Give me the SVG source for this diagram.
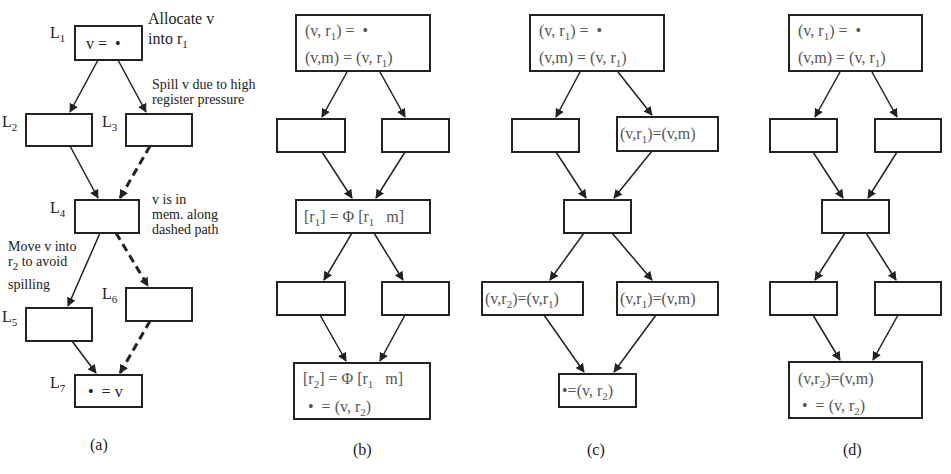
<svg xmlns="http://www.w3.org/2000/svg" width="951" height="474" viewBox="0 0 951 474">
<style>
rect{fill:#fff;stroke:#222;stroke-width:2}
text{font-family:'Liberation Serif','Times New Roman','DejaVu Serif',serif;font-size:14px;fill:#222;white-space:pre}
.g{fill:#555;font-size:16px}
.L{font-size:16px}
.c line{stroke:#222;stroke-width:1.5;marker-end:url(#a)}
.c line.d{stroke-width:3;stroke-dasharray:8,5}
.s{font-size:11px}
</style>
<defs><marker id="a" viewBox="0 0 10 10" refX="9" refY="5" markerWidth="9" markerHeight="9" markerUnits="userSpaceOnUse" orient="auto"><path d="M0,0L10,5L0,10z" fill="#222"/></marker></defs>
<g id="pa">
<g id="a1"><rect x="75" y="26" width="67" height="34"/><text class="L" x="86" y="49">v =  •</text><text class="L" x="50" y="38">L<tspan class="s" dy="4">1</tspan></text></g>
<g id="a2"><rect x="26" y="114" width="66" height="32"/><text class="L" x="2" y="127">L<tspan class="s" dy="4">2</tspan></text></g>
<g id="a3"><rect x="126" y="114" width="66" height="32"/><text class="L" x="102" y="127">L<tspan class="s" dy="4">3</tspan></text></g>
<g id="a4"><rect x="75" y="200" width="64" height="33"/><text class="L" x="50" y="213">L<tspan class="s" dy="4">4</tspan></text></g>
<g id="a5"><rect x="26" y="308" width="66" height="33"/><text class="L" x="2" y="322">L<tspan class="s" dy="4">5</tspan></text></g>
<g id="a6"><rect x="126" y="288" width="66" height="33"/><text class="L" x="102" y="299">L<tspan class="s" dy="4">6</tspan></text></g>
<g id="a7"><rect x="75" y="375" width="67" height="32"/><text class="L" x="88" y="397">•  = v</text><text class="L" x="50" y="388">L<tspan class="s" dy="4">7</tspan></text></g>
<text class="L" x="148" y="24">Allocate v</text><text class="L" x="148" y="44">into r<tspan class="s" dy="4">1</tspan></text>
<text x="152" y="89">Spill v due to high</text><text x="152" y="104">register pressure</text>
<text x="152" y="204">v is in</text><text x="152" y="219">mem. along</text><text x="152" y="234">dashed path</text>
<text x="8" y="251">Move v into</text><text x="8" y="266">r<tspan class="s" dy="4">2</tspan><tspan dy="-4"> to avoid</tspan></text><text x="8" y="289">spilling</text>
<text class="L" x="90" y="450">(a)</text>
</g>
<g id="pb">
<g id="b1"><rect x="296" y="15" width="134" height="56"/><text class="g" x="305" y="36">(v, r<tspan class="s" dy="4">1</tspan><tspan dy="-4">) =  •</tspan></text><text class="g" x="305" y="63">(v,m) = (v, r<tspan class="s" dy="4">1</tspan><tspan dy="-4">)</tspan></text></g>
<g id="b2"><rect x="277" y="119" width="68" height="33"/></g>
<g id="b3"><rect x="382" y="119" width="67" height="33"/></g>
<g id="b4"><rect x="296" y="200" width="134" height="33"/><text class="g" x="304" y="222">[r<tspan class="s" dy="4">1</tspan><tspan dy="-4">] = Φ [r</tspan><tspan class="s" dy="4">1</tspan><tspan dy="-4">   m]</tspan></text></g>
<g id="b5"><rect x="277" y="282" width="68" height="33"/></g>
<g id="b6"><rect x="382" y="282" width="67" height="33"/></g>
<g id="b7"><rect x="294" y="363" width="136" height="56"/><text class="g" x="303" y="384">[r<tspan class="s" dy="4">2</tspan><tspan dy="-4">] = Φ [r</tspan><tspan class="s" dy="4">1</tspan><tspan dy="-4">   m]</tspan></text><text class="g" x="308" y="412">•  = (v, r<tspan class="s" dy="4">2</tspan><tspan dy="-4">)</tspan></text></g>
<text class="L" x="353" y="455">(b)</text>
</g>
<g id="pc">
<g id="c1"><rect x="530" y="15" width="134" height="56"/><text class="g" x="539" y="36">(v, r<tspan class="s" dy="4">1</tspan><tspan dy="-4">) =  •</tspan></text><text class="g" x="539" y="63">(v,m) = (v, r<tspan class="s" dy="4">1</tspan><tspan dy="-4">)</tspan></text></g>
<g id="c2"><rect x="512" y="119" width="67" height="33"/></g>
<g id="c3"><rect x="617" y="117" width="101" height="34"/><text class="g" x="620" y="139">(v,r<tspan class="s" dy="4">1</tspan><tspan dy="-4">)=(v,m)</tspan></text></g>
<g id="c4"><rect x="564" y="200" width="67" height="33"/></g>
<g id="c5"><rect x="482" y="282" width="101" height="33"/><text class="g" x="485" y="304">(v,r<tspan class="s" dy="4">2</tspan><tspan dy="-4">)=(v,r</tspan><tspan class="s" dy="4">1</tspan><tspan dy="-4">)</tspan></text></g>
<g id="c6"><rect x="617" y="282" width="101" height="33"/><text class="g" x="620" y="304">(v,r<tspan class="s" dy="4">1</tspan><tspan dy="-4">)=(v,m)</tspan></text></g>
<g id="c7"><rect x="559" y="374" width="77" height="33"/><text class="g" x="562" y="396">•=(v, r<tspan class="s" dy="4">2</tspan><tspan dy="-4">)</tspan></text></g>
<text class="L" x="587" y="455">(c)</text>
</g>
<g id="pd">
<g id="d1"><rect x="789" y="15" width="133" height="56"/><text class="g" x="798" y="36">(v, r<tspan class="s" dy="4">1</tspan><tspan dy="-4">) =  •</tspan></text><text class="g" x="798" y="63">(v,m) = (v, r<tspan class="s" dy="4">1</tspan><tspan dy="-4">)</tspan></text></g>
<g id="d2"><rect x="770" y="119" width="67" height="33"/></g>
<g id="d3"><rect x="875" y="119" width="66" height="33"/></g>
<g id="d4"><rect x="822" y="200" width="67" height="33"/></g>
<g id="d5"><rect x="770" y="282" width="67" height="33"/></g>
<g id="d6"><rect x="875" y="282" width="66" height="33"/></g>
<g id="d7"><rect x="789" y="362" width="133" height="56"/><text class="g" x="798" y="384">(v,r<tspan class="s" dy="4">2</tspan><tspan dy="-4">)=(v,m)</tspan></text><text class="g" x="802" y="411">•  = (v, r<tspan class="s" dy="4">2</tspan><tspan dy="-4">)</tspan></text></g>
<text class="L" x="843" y="455">(d)</text>
</g>
<g id="connectors" class="c">
<line x1="98" y1="60" x2="70" y2="112"/><line x1="118" y1="60" x2="146" y2="112"/>
<line x1="70" y1="146" x2="98" y2="198"/><line class="d" x1="150" y1="146" x2="120" y2="198"/>
<line x1="100" y1="233" x2="68" y2="306"/><line class="d" x1="116" y1="233" x2="148" y2="286"/>
<line x1="72" y1="341" x2="96" y2="373"/><line class="d" x1="150" y1="321" x2="120" y2="373"/>
<line x1="347" y1="72" x2="322" y2="117"/><line x1="380" y1="72" x2="405" y2="117"/>
<line x1="322" y1="152" x2="352" y2="198"/><line x1="405" y1="152" x2="376" y2="198"/>
<line x1="352" y1="233" x2="324" y2="280"/><line x1="374" y1="233" x2="403" y2="280"/>
<line x1="320" y1="315" x2="346" y2="361"/><line x1="405" y1="315" x2="380" y2="361"/>
<line x1="580" y1="72" x2="556" y2="117"/><line x1="618" y1="72" x2="652" y2="115"/>
<line x1="556" y1="152" x2="586" y2="198"/><line x1="652" y1="151" x2="614" y2="198"/>
<line x1="584" y1="233" x2="550" y2="280"/><line x1="612" y1="233" x2="652" y2="280"/>
<line x1="544" y1="315" x2="584" y2="372"/><line x1="656" y1="315" x2="614" y2="372"/>
<line x1="840" y1="72" x2="815" y2="117"/><line x1="872" y1="72" x2="897" y2="117"/>
<line x1="813" y1="152" x2="843" y2="198"/><line x1="897" y1="152" x2="868" y2="198"/>
<line x1="845" y1="233" x2="815" y2="280"/><line x1="866" y1="233" x2="896" y2="280"/>
<line x1="813" y1="315" x2="840" y2="360"/><line x1="898" y1="315" x2="873" y2="360"/>
</g>
</svg>
